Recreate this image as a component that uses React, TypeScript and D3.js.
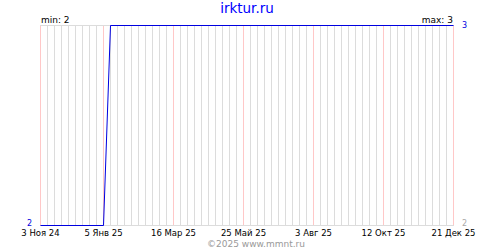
import React from "react";
import * as d3 from "d3";

const title = "irktur.ru";
const copyright = "©2025 www.mmnt.ru";
const seriesDates = ["2024-11-03", "2025-01-05", "2025-01-12", "2025-12-21"];
const seriesValues = [2, 2, 3, 3];
const tickDates = ["2024-11-03", "2025-01-05", "2025-03-16", "2025-05-25", "2025-08-03", "2025-10-12", "2025-12-21"];
const tickLabels = ["3 Ноя 24", "5 Янв 25", "16 Мар 25", "25 Май 25", "3 Авг 25", "12 Окт 25", "21 Дек 25"];
const minLabel = "min: 2";
const maxLabel = "max: 3";
const yMin = 2;
const yMax = 3;

const parse = d3.utcParse("%Y-%m-%d");

export default function App() {
  const W = 500, H = 250;
  const x = d3.scaleUtc()
    .domain([parse(tickDates[0])!, parse(tickDates[tickDates.length - 1])!])
    .range([40.5, 453.5]);
  const y = d3.scaleLinear().domain([yMin, yMax]).range([225.5, 25.5]);
  const weeks = d3.utcWeek.range(x.domain()[0], d3.utcDay.offset(x.domain()[1], 1));
  const pts: [Date, number][] = seriesDates.map((d, i) => [parse(d)!, seriesValues[i]]);
  const line = d3.line<[Date, number]>().x(d => x(d[0])).y(d => y(d[1]));
  const font = "'DejaVu Sans', sans-serif";
  return (
    <svg width={W} height={H} style={{ position: "absolute", left: 0, top: 0, background: "#fff" }} fontFamily={font}>
      <rect width={W} height={H} fill="#fff" />
      {weeks.map((d, i) => (
        <line key={"g" + i} x1={x(d)} x2={x(d)} y1={25} y2={225} stroke="#dcdcdc" strokeWidth={1} />
      ))}
      {tickDates.map((d, i) => (
        <line key={"r" + i} x1={x(parse(d)!)} x2={x(parse(d)!)} y1={25} y2={225} stroke="#ffc8c8" strokeWidth={1} />
      ))}
      <line x1={40} x2={454} y1={y(yMax)} y2={y(yMax)} stroke="#dcdcdc" />
      <line x1={40} x2={454} y1={y(yMin)} y2={y(yMin)} stroke="#dcdcdc" />
      <path d={line(pts) || ""} fill="none" stroke="#0000e0" strokeWidth={1} />
      {tickDates.map((d, i) => (
        <text key={"t" + i} x={x(parse(d)!)} y={236} textAnchor="middle" fontSize={8.5} fill="#000">{tickLabels[i]}</text>
      ))}
      <text x={247} y={13} textAnchor="middle" fontSize={13.5} fill="#0000ff">{title}</text>
      <text x={41} y={23} fontSize={9} fill="#000">{minLabel}</text>
      <text x={453} y={23} textAnchor="end" fontSize={9} fill="#000">{maxLabel}</text>
      <text x={32} y={226} textAnchor="end" fontSize={8} fill="#0000e0">{String(yMin)}</text>
      <text x={462} y={28} fontSize={8} fill="#0000e0">{String(yMax)}</text>
      <text x={462} y={226} fontSize={8} fill="#aaaaaa">{String(yMin)}</text>
      <text x={256} y={247} textAnchor="middle" fontSize={9} fill="#999999">{copyright}</text>
    </svg>
  );
}
